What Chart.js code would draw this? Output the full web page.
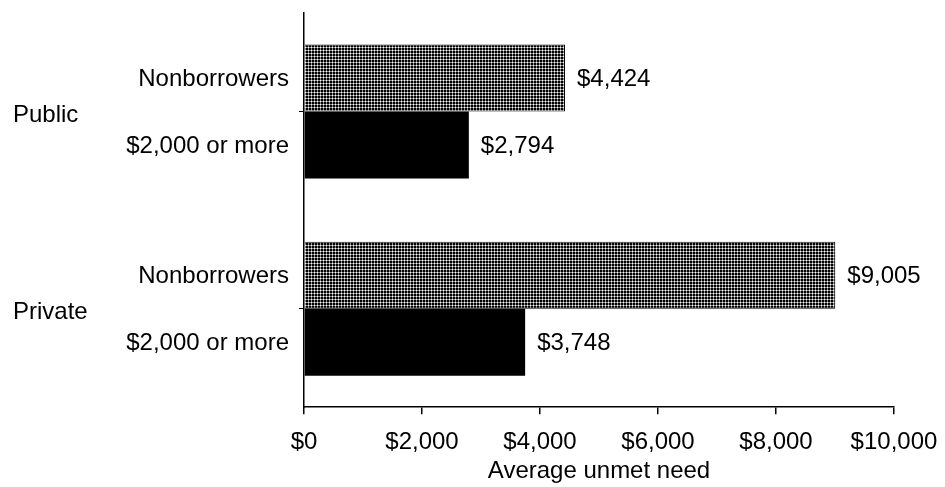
<!DOCTYPE html>
<html>
<head>
<meta charset="utf-8">
<script src="https://cdn.jsdelivr.net/npm/chart.js@4"></script>
<style>
  html, body { margin: 0; padding: 0; background: #fff; }
  #wrap { width: 945px; height: 487px; }
</style>
</head>
<body>
<div id="wrap"><canvas id="grafico"></canvas></div>
<script>
const setores = ['Public', 'Private'];
const grupos = ['Nonborrowers', '$2,000 or more'];
const naoTomadores = [4424, 9005];
const tomadores = [2794, 3748];
const ticksX = [0, 2000, 4000, 6000, 8000, 10000];

const fonte = '"Liberation Sans", Arial, sans-serif';
const tamanho = 24;

// padrão pontilhado escuro das barras de não tomadores
function criarPadrao() {
    const c = document.createElement('canvas');
    c.width = 3; c.height = 3;
    const g = c.getContext('2d');
    g.fillStyle = '#8a8a8a';
    g.fillRect(0, 0, 3, 3);
    g.fillStyle = '#000';
    g.fillRect(0, 0, 2, 2);
    g.fillStyle = '#fff';
    g.fillRect(2, 2, 1, 1);
    return g.createPattern(c, 'repeat');
}

function dolar(v) {
    return '$' + v.toLocaleString('en-US');
}

const rotulos = {
    id: 'rotulos',
    afterDatasetsDraw(chart) {
        const ctx = chart.ctx;
        ctx.save();
        ctx.font = tamanho + 'px ' + fonte;
        ctx.fillStyle = '#000';
        ctx.textBaseline = 'middle';
        chart.data.datasets.forEach((ds, i) => {
            chart.getDatasetMeta(i).data.forEach((bar, j) => {
                ctx.textAlign = 'left';
                ctx.fillText(dolar(ds.data[j]), bar.x + 12, bar.y + 1);
                ctx.textAlign = 'right';
                ctx.fillText(grupos[i], chart.chartArea.left - 15, bar.y + 1);
            });
        });
        const y = chart.scales.y;
        ctx.textAlign = 'left';
        setores.forEach((s, j) => {
            ctx.fillText(s, 13, y.getPixelForValue(j) + 4);
        });
        ctx.restore();
    }
};

new Chart(document.getElementById('grafico'), {
    type: 'bar',
    data: {
        labels: setores,
        datasets: [{
            label: grupos[0],
            data: naoTomadores,
            backgroundColor: criarPadrao(),
            borderColor: '#000',
            borderWidth: 1
        }, {
            label: grupos[1],
            data: tomadores,
            backgroundColor: '#000',
            borderWidth: 0
        }]
    },
    options: {
        indexAxis: 'y',
        responsive: true,
        maintainAspectRatio: false,
        animation: false,
        categoryPercentage: 0.68,
        barPercentage: 1,
        layout: { padding: { left: 299, right: 51, top: 13, bottom: 0 } },
        plugins: {
            legend: { display: false },
            tooltip: { enabled: false }
        },
        scales: {
            x: {
                min: 0,
                max: 10000,
                afterBuildTicks: axis => { axis.ticks = ticksX.map(v => ({ value: v })); },
                // o rótulo $10,000 cabe na margem direita, sem encolher a área
                afterFit: axis => { axis.paddingRight = 0; axis.paddingLeft = 0; },
                border: { color: '#000', width: 1.5 },
                grid: { drawOnChartArea: false, color: '#000', tickLength: 7, lineWidth: 1.5 },
                ticks: {
                    color: '#000',
                    font: { family: fonte, size: tamanho },
                    padding: 14,
                    callback: v => dolar(v)
                },
                title: {
                    display: true,
                    text: 'Average unmet need',
                    color: '#000',
                    font: { family: fonte, size: tamanho, lineHeight: 1 },
                    padding: { top: -12, bottom: 4 }
                }
            },
            y: {
                border: { color: '#000', width: 1.5 },
                grid: { drawOnChartArea: false, offset: false, color: '#000', tickLength: 5, lineWidth: 1 },
                ticks: { display: false }
            }
        }
    },
    plugins: [rotulos]
});
</script>
</body>
</html>
